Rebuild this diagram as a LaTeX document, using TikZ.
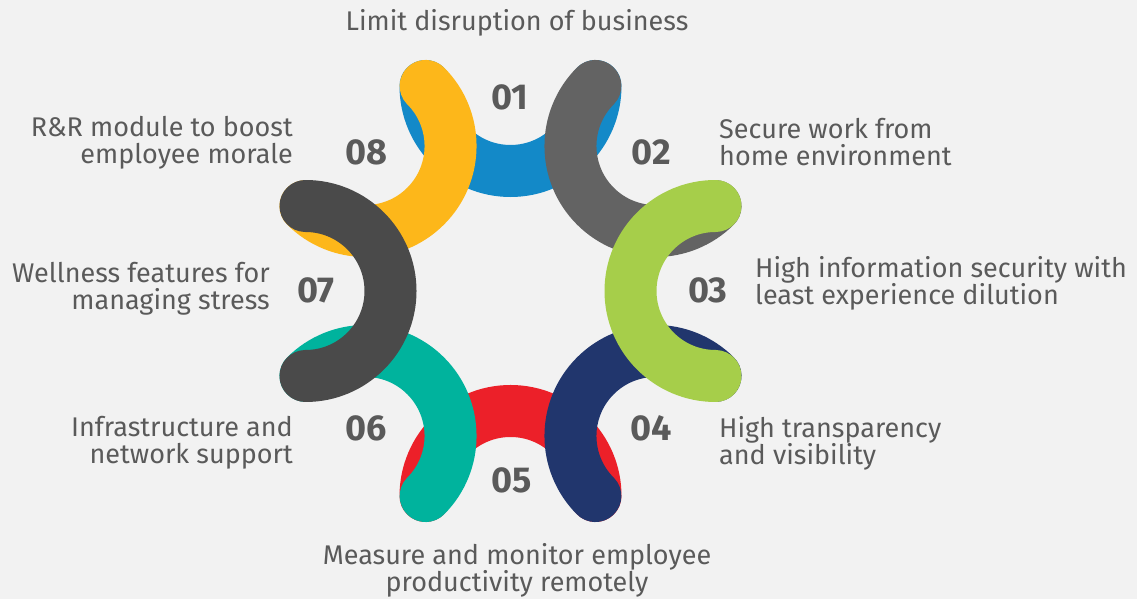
\documentclass[tikz,border=0pt]{standalone}
\usepackage{fontspec}
\usetikzlibrary{calc}
\setmainfont{Fira Sans}
\definecolor{bg}{HTML}{F2F2F2}
\definecolor{txt}{HTML}{5A5A5A}
\definecolor{cA}{HTML}{1389C8}
\definecolor{cB}{HTML}{636363}
\definecolor{cC}{HTML}{A6CE4A}
\definecolor{cD}{HTML}{21366D}
\definecolor{cE}{HTML}{EC2029}
\definecolor{cF}{HTML}{00B39D}
\definecolor{cG}{HTML}{4A4A4A}
\definecolor{cH}{HTML}{FDB71A}
\begin{document}
\begin{tikzpicture}[x=1pt,y=1pt,
  ring/.style={line width=52pt,line cap=round},
  num/.style={text=txt,font=\fontsize{36}{40}\selectfont\bfseries,inner sep=0pt},
  lbl/.style={text=txt,font=\fontsize{27}{27}\selectfont,inner sep=0pt,align=#1},
  lbl/.default=left]
\fill[bg] (0,0) rectangle (1137,599);
\useasboundingbox (0,0) rectangle (1137,599);
\coordinate (C) at (510.5,308);
% arcs: angle theta, arc spans theta+90 .. theta+270, mid radius 85
\foreach \t/\c in {90/cA,270/cE,45/cB,-45/cD,225/cF,135/cH,0/cC,180/cG}{
  \draw[ring,\c] ($(C)+(\t:205)+(\t+90:85)$) arc[start angle=\t+90,end angle=\t+270,radius=85];
}
% numbers
\node[num] (n1) at (510,502) {01};
\node[num] (n2) at (651,447) {02};
\node[num] (n3) at (708,309) {03};
\node[num] (n4) at (651,171) {04};
\node[num] (n5) at (512,119) {05};
\node[num] (n6) at (366,171) {06};
\node[num] (n7) at (316,309) {07};
\node[num] (n8) at (366,447) {08};
% labels
\node[lbl=center] (l1) at (517,576) {Limit disruption of business};
\node[lbl=left,anchor=west] (l2) at (719,456.5) {Secure work from\\home environment};
\node[lbl=left,anchor=west] (l3) at (755,315.5) {High information security with\\least experience dilution};
\node[lbl=left,anchor=west] (l4) at (719,156) {High transparency\\and visibility};
\node[lbl=center] (l5) at (517,29) {Measure and monitor employee\\productivity remotely};
\node[lbl=right,anchor=east] (l6) at (293,156) {Infrastructure and\\network support};
\node[lbl=right,anchor=east] (l7) at (270,310.5) {Wellness features for\\managing stress};
\node[lbl=right,anchor=east] (l8) at (293,456.5) {R\&R module to boost\\employee morale};
\end{tikzpicture}
\end{document}
